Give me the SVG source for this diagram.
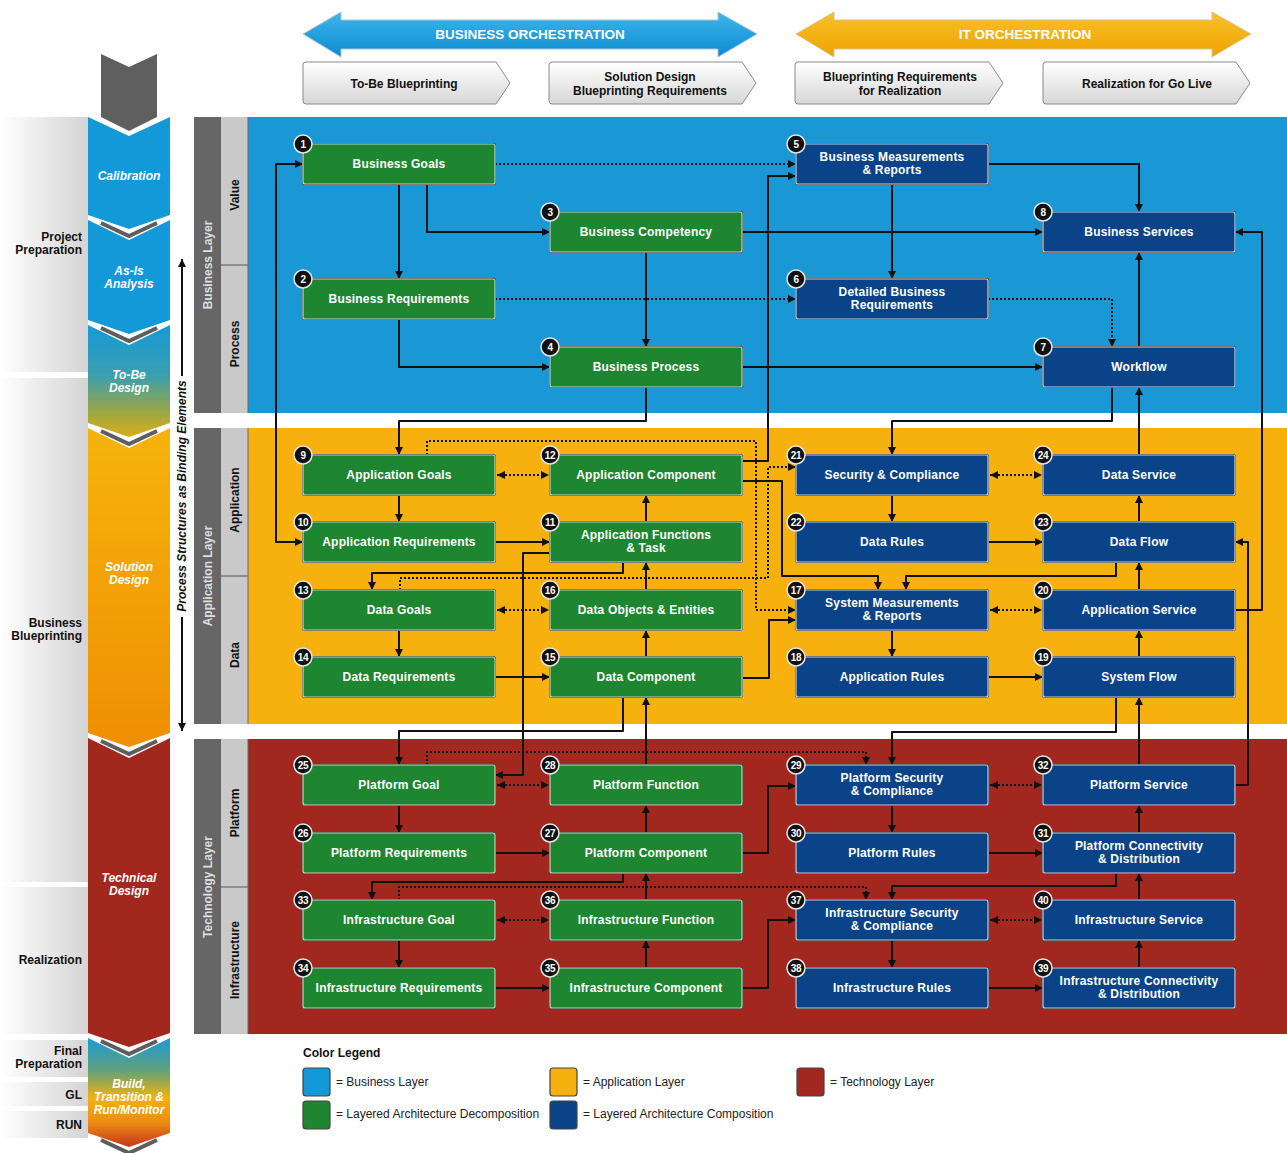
<svg xmlns="http://www.w3.org/2000/svg" width="1287" height="1153" viewBox="0 0 1287 1153">
<style>
.sh{fill:#2b2b2b}
.g .box{fill:#1e8530;stroke:#c8d4c8;stroke-width:1.2}
.b .box{fill:#0b4388;stroke:#c8d0dc;stroke-width:1.2}
.bc{fill:#111;stroke:#e6e6e6;stroke-width:1.5}
.bn{font-family:"Liberation Sans",Arial,sans-serif;font-weight:bold;font-size:10px;fill:#fff;text-anchor:middle;letter-spacing:-0.4px}
.t{font-family:"Liberation Sans",Arial,sans-serif;font-weight:bold;font-size:12px;fill:#fff;text-anchor:middle;letter-spacing:0.2px}
.c{fill:none;stroke:#111;stroke-width:2;stroke-linejoin:round;marker-end:url(#ah)}
.d{stroke-dasharray:2 2}
.two{marker-start:url(#ah)}
.lab{font-family:"Liberation Sans",Arial,sans-serif;font-weight:bold;font-size:12px;fill:#111}
.rt{text-anchor:end}
.mid{text-anchor:middle}
.ph{font-family:"Liberation Sans",Arial,sans-serif;font-weight:bold;font-style:italic;font-size:12px;fill:#fff;text-anchor:middle}
.sub{fill:url(#gsub);stroke:#8a8a8a;stroke-width:1}
.leg{font-family:"Liberation Sans",Arial,sans-serif;font-size:12px;fill:#222}
.sw{stroke:#444;stroke-width:1.2}
.stripe{fill:none;stroke:#5e5e5e;stroke-width:4}
.gp{fill:url(#ggray)}
</style>
<defs>
<marker id="ah" viewBox="0 0 10 10" refX="10" refY="5" markerWidth="9" markerHeight="8" markerUnits="userSpaceOnUse" orient="auto-start-reverse"><path d="M0,0 L10,5 L0,10 z" fill="#111"/></marker>
<linearGradient id="gsub" x1="0" y1="0" x2="0" y2="1"><stop offset="0" stop-color="#ffffff"/><stop offset="1" stop-color="#d6d6d6"/></linearGradient>
<linearGradient id="ggray" x1="0" y1="0" x2="1" y2="0"><stop offset="0" stop-color="#ffffff"/><stop offset="1" stop-color="#d4d4d4"/></linearGradient>
<linearGradient id="gbo" x1="0" y1="0" x2="0" y2="1"><stop offset="0" stop-color="#3fb6ec"/><stop offset="1" stop-color="#0a8bcf"/></linearGradient>
<linearGradient id="gito" x1="0" y1="0" x2="0" y2="1"><stop offset="0" stop-color="#f8c12a"/><stop offset="1" stop-color="#eea200"/></linearGradient>
<linearGradient id="gtobe" x1="0" y1="0" x2="0" y2="1"><stop offset="0" stop-color="#169ad8"/><stop offset="0.45" stop-color="#3a9fae"/><stop offset="0.75" stop-color="#94a74c"/><stop offset="1" stop-color="#d8ad18"/></linearGradient>
<linearGradient id="gsol" x1="0" y1="0" x2="0" y2="1"><stop offset="0" stop-color="#f6b30c"/><stop offset="1" stop-color="#ef8f02"/></linearGradient>
<linearGradient id="gbuild" x1="0" y1="0" x2="0" y2="1"><stop offset="0" stop-color="#1a9ad8"/><stop offset="0.3" stop-color="#62a27a"/><stop offset="0.55" stop-color="#f3b20e"/><stop offset="0.78" stop-color="#ec8a12"/><stop offset="1" stop-color="#c4361c"/></linearGradient>
</defs>
<rect width="1287" height="1153" fill="#ffffff"/>

<g id="header">
<polygon points="303,34 341,12 341,20 718,20 718,12 757,34 718,57 718,49 341,49 341,57" fill="url(#gbo)" stroke="#a9c3d6" stroke-width="1"/>
<text x="530" y="39" class="mid" font-family="Liberation Sans, Arial, sans-serif" font-weight="bold" font-size="13.5" fill="#fff">BUSINESS ORCHESTRATION</text>
<polygon points="796,34 834,12 834,20 1212,20 1212,12 1251,34 1212,57 1212,49 834,49 834,57" fill="url(#gito)" stroke="#d6c49a" stroke-width="1"/>
<text x="1025" y="39" class="mid" font-family="Liberation Sans, Arial, sans-serif" font-weight="bold" font-size="13.5" fill="#fff">IT ORCHESTRATION</text>
<path class="sub" d="M306,62 H496 L510,83 L496,104 H306 Q303,104 303,101 V65 Q303,62 306,62 Z"/>
<text class="lab mid" x="404" y="88">To-Be Blueprinting</text>
<path class="sub" d="M552,62 H742 L756,83 L742,104 H552 Q549,104 549,101 V65 Q549,62 552,62 Z"/>
<text class="lab mid" x="650" y="81">Solution Design</text>
<text class="lab mid" x="650" y="95">Blueprinting Requirements</text>
<path class="sub" d="M798,62 H989 L1003,83 L989,104 H798 Q795,104 795,101 V65 Q795,62 798,62 Z"/>
<text class="lab mid" x="900" y="81">Blueprinting Requirements</text>
<text class="lab mid" x="900" y="95">for Realization</text>
<path class="sub" d="M1046,62 H1236 L1250,83 L1236,104 H1046 Q1043,104 1043,101 V65 Q1043,62 1046,62 Z"/>
<text class="lab mid" x="1147" y="88">Realization for Go Live</text>
</g>

<g id="phases">
<rect class="gp" x="0" y="117" width="88" height="255"/>
<rect class="gp" x="0" y="378" width="88" height="504"/>
<rect class="gp" x="0" y="887" width="88" height="147"/>
<rect class="gp" x="0" y="1040" width="88" height="37"/>
<rect class="gp" x="0" y="1082" width="88" height="24"/>
<rect class="gp" x="0" y="1111" width="88" height="27"/>
<text class="lab rt" x="82" y="241">Project</text>
<text class="lab rt" x="82" y="254">Preparation</text>
<text class="lab rt" x="82" y="627">Business</text>
<text class="lab rt" x="82" y="640">Blueprinting</text>
<text class="lab rt" x="82" y="964">Realization</text>
<text class="lab rt" x="82" y="1055">Final</text>
<text class="lab rt" x="82" y="1068">Preparation</text>
<text class="lab rt" x="82" y="1099">GL</text>
<text class="lab rt" x="82" y="1129">RUN</text>

<polygon points="101,54 129,67 157,54 157,117 129,131 101,117" fill="#5f5f5f"/>
<polygon points="88,117 129,136 170,117 170,215 129,229 88,215" fill="#1499d8"/>
<polygon points="88,220 129,240 170,220 170,320 129,334 88,320" fill="#1499d8"/>
<polyline class="stripe" points="101,223 129,236 157,223"/>
<polygon points="88,325 129,345 170,325 170,423 129,437 88,423" fill="url(#gtobe)"/>
<polyline class="stripe" points="101,328 129,341 157,328"/>
<polygon points="88,428 129,448 170,428 170,733 129,747 88,733" fill="url(#gsol)"/>
<polyline class="stripe" points="101,431 129,444 157,431"/>
<polygon points="88,738 129,758 170,738 170,1033 129,1047 88,1033" fill="#a2271d"/>
<polyline class="stripe" points="101,741 129,754 157,741"/>
<polygon points="88,1038 129,1058 170,1038 170,1133 129,1147 88,1133" fill="url(#gbuild)"/>
<polyline class="stripe" points="101,1041 129,1054 157,1041"/>
<polyline class="stripe" points="101,1140 129,1153 157,1140"/>
<text class="ph" x="129" y="180">Calibration</text>
<text class="ph" x="129" y="275">As-Is</text>
<text class="ph" x="129" y="288">Analysis</text>
<text class="ph" x="129" y="379">To-Be</text>
<text class="ph" x="129" y="392">Design</text>
<text class="ph" x="129" y="571">Solution</text>
<text class="ph" x="129" y="584">Design</text>
<text class="ph" x="129" y="882">Technical</text>
<text class="ph" x="129" y="895">Design</text>
<text class="ph" x="129" y="1088">Build,</text>
<text class="ph" x="129" y="1101">Transition &amp;</text>
<text class="ph" x="129" y="1114">Run/Monitor</text>

<path d="M182,376 V259" fill="none" stroke="#111" stroke-width="2" marker-end="url(#ah)"/>
<path d="M182,617 V731" fill="none" stroke="#111" stroke-width="2" marker-end="url(#ah)"/>
<text transform="translate(186,496) rotate(-90)" font-family="Liberation Sans, Arial, sans-serif" font-weight="bold" font-style="italic" font-size="12" fill="#111" text-anchor="middle">Process Structures as Binding Elements</text>
</g>

<g id="layers">
<rect x="248" y="117" width="1039" height="296" fill="#1a98d6"/>
<rect x="248" y="428" width="1039" height="296" fill="#f7b10e"/>
<rect x="248" y="739" width="1039" height="295" fill="#a1271f"/>
<rect x="194" y="117" width="27" height="296" fill="#666"/>
<rect x="221" y="117" width="27" height="296" fill="#c9c9c9"/>
<rect x="194" y="428" width="27" height="296" fill="#666"/>
<rect x="221" y="428" width="27" height="296" fill="#c9c9c9"/>
<rect x="194" y="739" width="27" height="295" fill="#666"/>
<rect x="221" y="739" width="27" height="295" fill="#c9c9c9"/>
<line x1="221" y1="265" x2="248" y2="265" stroke="#555" stroke-width="1"/>
<line x1="221" y1="576" x2="248" y2="576" stroke="#555" stroke-width="1"/>
<line x1="221" y1="887" x2="248" y2="887" stroke="#555" stroke-width="1"/>
<line x1="248" y1="117" x2="248" y2="413" stroke="#666" stroke-width="1"/>
<line x1="248" y1="428" x2="248" y2="724" stroke="#666" stroke-width="1"/>
<line x1="248" y1="739" x2="248" y2="1034" stroke="#666" stroke-width="1"/>
<g font-family="Liberation Sans, Arial, sans-serif" font-weight="bold" font-size="12" text-anchor="middle">
<text transform="translate(212,265) rotate(-90)" fill="#dedede">Business Layer</text>
<text transform="translate(239,195) rotate(-90)" fill="#111">Value</text>
<text transform="translate(239,344) rotate(-90)" fill="#111">Process</text>
<text transform="translate(212,576) rotate(-90)" fill="#dedede">Application Layer</text>
<text transform="translate(239,500) rotate(-90)" fill="#111">Application</text>
<text transform="translate(239,655) rotate(-90)" fill="#111">Data</text>
<text transform="translate(212,887) rotate(-90)" fill="#dedede">Technology Layer</text>
<text transform="translate(239,813) rotate(-90)" fill="#111">Platform</text>
<text transform="translate(239,960) rotate(-90)" fill="#111">Infrastructure</text>
</g>
</g>

<g id="connectors">
<path class="c" d="M399,184 V279"/>
<path class="c" d="M427,184 V232 H550"/>
<path class="c" d="M646,252 V347"/>
<path class="c" d="M399,319 V367 H550"/>
<path class="c d" d="M495,164 H796"/>
<path class="c d" d="M495,299 H796"/>
<path class="c" d="M892,184 V279"/>
<path class="c" d="M988,164 H1139 V212"/>
<path class="c" d="M742,232 H1043"/>
<path class="c d" d="M988,299 H1112 V347"/>
<path class="c" d="M742,367 H1043"/>
<path class="c" d="M1139,347 V252"/>
<path class="c" d="M1235,610 H1262 V232 H1235"/>
<path class="c two" d="M303,164 H276 V542 H303"/>
<path class="c" d="M742,461 H768 V176 H796"/>
<path class="c" d="M646,387 V421 H399 V455"/>
<path class="c" d="M1112,387 V421 H892 V455"/>
<path class="c" d="M1139,455 V387"/>

<path class="c" d="M399,495 V522"/>
<path class="c d two" d="M497,475 H549"/>
<path class="c" d="M495,542 H550"/>
<path class="c" d="M646,522 V495"/>
<path class="c" d="M646,590 V562"/>
<path class="c" d="M646,657 V630"/>
<path class="c" d="M495,677 H550"/>
<path class="c" d="M399,630 V657"/>
<path class="c d two" d="M497,610 H549"/>
<path class="c" d="M623,562 V573 H372 V590"/>
<path class="c d" d="M427,455 V441 H756 V610 H796"/>
<path class="c d" d="M400,590 V578 H768 V467 H796"/>
<path class="c" d="M742,481 H782 V576 H878 V590"/>
<path class="c" d="M1116,562 V576 H906 V590"/>
<path class="c" d="M742,678 H769 V620 H796"/>
<path class="c" d="M892,495 V522"/>
<path class="c" d="M988,542 H1043"/>
<path class="c" d="M1139,522 V495"/>
<path class="c d two" d="M990,475 H1042"/>
<path class="c" d="M892,630 V657"/>
<path class="c" d="M988,677 H1043"/>
<path class="c" d="M1139,657 V630"/>
<path class="c" d="M1139,590 V562"/>
<path class="c d two" d="M990,610 H1042"/>

<path class="c" d="M623,697 V731 H399 V765"/>
<path class="c" d="M550,553 H523 V775 H495"/>
<path class="c" d="M646,765 V697"/>
<path class="c" d="M1116,697 V732 H892 V765"/>
<path class="c" d="M1139,765 V697"/>
<path class="c" d="M1235,785 H1248 V542 H1235"/>

<path class="c d" d="M427,765 V752 H866 V765"/>
<path class="c d two" d="M497,785 H549"/>
<path class="c" d="M399,805 V833"/>
<path class="c" d="M495,853 H550"/>
<path class="c" d="M646,833 V805"/>
<path class="c" d="M742,853 H768 V786 H796"/>
<path class="c" d="M623,873 V882 H372 V900"/>
<path class="c d" d="M399,900 V887 H866 V900"/>
<path class="c" d="M646,900 V873"/>
<path class="c d two" d="M497,920 H549"/>
<path class="c" d="M399,940 V968"/>
<path class="c" d="M495,988 H550"/>
<path class="c" d="M646,968 V940"/>
<path class="c" d="M742,988 H768 V920 H796"/>
<path class="c" d="M892,805 V833"/>
<path class="c" d="M988,853 H1043"/>
<path class="c" d="M1139,833 V805"/>
<path class="c d two" d="M990,785 H1042"/>
<path class="c" d="M1116,873 V886 H892 V900"/>
<path class="c" d="M892,940 V968"/>
<path class="c" d="M988,988 H1043"/>
<path class="c" d="M1139,968 V940"/>
<path class="c" d="M1139,900 V873"/>
<path class="c d two" d="M990,920 H1042"/>
</g>

<g id="n1" class="g"><rect class="sh" x="302" y="143" width="194" height="42" rx="3"/><rect class="box" x="303" y="144" width="192" height="40" rx="2"/><circle class="bc" cx="303" cy="144" r="9"/><text class="bn" x="303" y="147.5">1</text><text class="t" x="399" y="168">Business Goals</text></g>
<g id="n2" class="g"><rect class="sh" x="302" y="278" width="194" height="42" rx="3"/><rect class="box" x="303" y="279" width="192" height="40" rx="2"/><circle class="bc" cx="303" cy="279" r="9"/><text class="bn" x="303" y="282.5">2</text><text class="t" x="399" y="303">Business Requirements</text></g>
<g id="n3" class="g"><rect class="sh" x="549" y="211" width="194" height="42" rx="3"/><rect class="box" x="550" y="212" width="192" height="40" rx="2"/><circle class="bc" cx="550" cy="212" r="9"/><text class="bn" x="550" y="215.5">3</text><text class="t" x="646" y="236">Business Competency</text></g>
<g id="n4" class="g"><rect class="sh" x="549" y="346" width="194" height="42" rx="3"/><rect class="box" x="550" y="347" width="192" height="40" rx="2"/><circle class="bc" cx="550" cy="347" r="9"/><text class="bn" x="550" y="350.5">4</text><text class="t" x="646" y="371">Business Process</text></g>
<g id="n5" class="b"><rect class="sh" x="795" y="143" width="194" height="42" rx="3"/><rect class="box" x="796" y="144" width="192" height="40" rx="2"/><circle class="bc" cx="796" cy="144" r="9"/><text class="bn" x="796" y="147.5">5</text><text class="t" x="892" y="161">Business Measurements</text><text class="t" x="892" y="174">&amp; Reports</text></g>
<g id="n6" class="b"><rect class="sh" x="795" y="278" width="194" height="42" rx="3"/><rect class="box" x="796" y="279" width="192" height="40" rx="2"/><circle class="bc" cx="796" cy="279" r="9"/><text class="bn" x="796" y="282.5">6</text><text class="t" x="892" y="296">Detailed Business</text><text class="t" x="892" y="309">Requirements</text></g>
<g id="n7" class="b"><rect class="sh" x="1042" y="346" width="194" height="42" rx="3"/><rect class="box" x="1043" y="347" width="192" height="40" rx="2"/><circle class="bc" cx="1043" cy="347" r="9"/><text class="bn" x="1043" y="350.5">7</text><text class="t" x="1139" y="371">Workflow</text></g>
<g id="n8" class="b"><rect class="sh" x="1042" y="211" width="194" height="42" rx="3"/><rect class="box" x="1043" y="212" width="192" height="40" rx="2"/><circle class="bc" cx="1043" cy="212" r="9"/><text class="bn" x="1043" y="215.5">8</text><text class="t" x="1139" y="236">Business Services</text></g>

<g id="n9" class="g"><rect class="sh" x="302" y="454" width="194" height="42" rx="3"/><rect class="box" x="303" y="455" width="192" height="40" rx="2"/><circle class="bc" cx="303" cy="455" r="9"/><text class="bn" x="303" y="458.5">9</text><text class="t" x="399" y="479">Application Goals</text></g>
<g id="n10" class="g"><rect class="sh" x="302" y="521" width="194" height="42" rx="3"/><rect class="box" x="303" y="522" width="192" height="40" rx="2"/><circle class="bc" cx="303" cy="522" r="9"/><text class="bn" x="303" y="525.5">10</text><text class="t" x="399" y="546">Application Requirements</text></g>
<g id="n11" class="g"><rect class="sh" x="549" y="521" width="194" height="42" rx="3"/><rect class="box" x="550" y="522" width="192" height="40" rx="2"/><circle class="bc" cx="550" cy="522" r="9"/><text class="bn" x="550" y="525.5">11</text><text class="t" x="646" y="539">Application Functions</text><text class="t" x="646" y="552">&amp; Task</text></g>
<g id="n12" class="g"><rect class="sh" x="549" y="454" width="194" height="42" rx="3"/><rect class="box" x="550" y="455" width="192" height="40" rx="2"/><circle class="bc" cx="550" cy="455" r="9"/><text class="bn" x="550" y="458.5">12</text><text class="t" x="646" y="479">Application Component</text></g>
<g id="n13" class="g"><rect class="sh" x="302" y="589" width="194" height="42" rx="3"/><rect class="box" x="303" y="590" width="192" height="40" rx="2"/><circle class="bc" cx="303" cy="590" r="9"/><text class="bn" x="303" y="593.5">13</text><text class="t" x="399" y="614">Data Goals</text></g>
<g id="n14" class="g"><rect class="sh" x="302" y="656" width="194" height="42" rx="3"/><rect class="box" x="303" y="657" width="192" height="40" rx="2"/><circle class="bc" cx="303" cy="657" r="9"/><text class="bn" x="303" y="660.5">14</text><text class="t" x="399" y="681">Data Requirements</text></g>
<g id="n15" class="g"><rect class="sh" x="549" y="656" width="194" height="42" rx="3"/><rect class="box" x="550" y="657" width="192" height="40" rx="2"/><circle class="bc" cx="550" cy="657" r="9"/><text class="bn" x="550" y="660.5">15</text><text class="t" x="646" y="681">Data Component</text></g>
<g id="n16" class="g"><rect class="sh" x="549" y="589" width="194" height="42" rx="3"/><rect class="box" x="550" y="590" width="192" height="40" rx="2"/><circle class="bc" cx="550" cy="590" r="9"/><text class="bn" x="550" y="593.5">16</text><text class="t" x="646" y="614">Data Objects &amp; Entities</text></g>
<g id="n17" class="b"><rect class="sh" x="795" y="589" width="194" height="42" rx="3"/><rect class="box" x="796" y="590" width="192" height="40" rx="2"/><circle class="bc" cx="796" cy="590" r="9"/><text class="bn" x="796" y="593.5">17</text><text class="t" x="892" y="607">System Measurements</text><text class="t" x="892" y="620">&amp; Reports</text></g>
<g id="n18" class="b"><rect class="sh" x="795" y="656" width="194" height="42" rx="3"/><rect class="box" x="796" y="657" width="192" height="40" rx="2"/><circle class="bc" cx="796" cy="657" r="9"/><text class="bn" x="796" y="660.5">18</text><text class="t" x="892" y="681">Application Rules</text></g>
<g id="n19" class="b"><rect class="sh" x="1042" y="656" width="194" height="42" rx="3"/><rect class="box" x="1043" y="657" width="192" height="40" rx="2"/><circle class="bc" cx="1043" cy="657" r="9"/><text class="bn" x="1043" y="660.5">19</text><text class="t" x="1139" y="681">System Flow</text></g>
<g id="n20" class="b"><rect class="sh" x="1042" y="589" width="194" height="42" rx="3"/><rect class="box" x="1043" y="590" width="192" height="40" rx="2"/><circle class="bc" cx="1043" cy="590" r="9"/><text class="bn" x="1043" y="593.5">20</text><text class="t" x="1139" y="614">Application Service</text></g>
<g id="n21" class="b"><rect class="sh" x="795" y="454" width="194" height="42" rx="3"/><rect class="box" x="796" y="455" width="192" height="40" rx="2"/><circle class="bc" cx="796" cy="455" r="9"/><text class="bn" x="796" y="458.5">21</text><text class="t" x="892" y="479">Security &amp; Compliance</text></g>
<g id="n22" class="b"><rect class="sh" x="795" y="521" width="194" height="42" rx="3"/><rect class="box" x="796" y="522" width="192" height="40" rx="2"/><circle class="bc" cx="796" cy="522" r="9"/><text class="bn" x="796" y="525.5">22</text><text class="t" x="892" y="546">Data Rules</text></g>
<g id="n23" class="b"><rect class="sh" x="1042" y="521" width="194" height="42" rx="3"/><rect class="box" x="1043" y="522" width="192" height="40" rx="2"/><circle class="bc" cx="1043" cy="522" r="9"/><text class="bn" x="1043" y="525.5">23</text><text class="t" x="1139" y="546">Data Flow</text></g>
<g id="n24" class="b"><rect class="sh" x="1042" y="454" width="194" height="42" rx="3"/><rect class="box" x="1043" y="455" width="192" height="40" rx="2"/><circle class="bc" cx="1043" cy="455" r="9"/><text class="bn" x="1043" y="458.5">24</text><text class="t" x="1139" y="479">Data Service</text></g>

<g id="n25" class="g"><rect class="sh" x="302" y="764" width="194" height="42" rx="3"/><rect class="box" x="303" y="765" width="192" height="40" rx="2"/><circle class="bc" cx="303" cy="765" r="9"/><text class="bn" x="303" y="768.5">25</text><text class="t" x="399" y="789">Platform Goal</text></g>
<g id="n26" class="g"><rect class="sh" x="302" y="832" width="194" height="42" rx="3"/><rect class="box" x="303" y="833" width="192" height="40" rx="2"/><circle class="bc" cx="303" cy="833" r="9"/><text class="bn" x="303" y="836.5">26</text><text class="t" x="399" y="857">Platform Requirements</text></g>
<g id="n27" class="g"><rect class="sh" x="549" y="832" width="194" height="42" rx="3"/><rect class="box" x="550" y="833" width="192" height="40" rx="2"/><circle class="bc" cx="550" cy="833" r="9"/><text class="bn" x="550" y="836.5">27</text><text class="t" x="646" y="857">Platform Component</text></g>
<g id="n28" class="g"><rect class="sh" x="549" y="764" width="194" height="42" rx="3"/><rect class="box" x="550" y="765" width="192" height="40" rx="2"/><circle class="bc" cx="550" cy="765" r="9"/><text class="bn" x="550" y="768.5">28</text><text class="t" x="646" y="789">Platform Function</text></g>
<g id="n29" class="b"><rect class="sh" x="795" y="764" width="194" height="42" rx="3"/><rect class="box" x="796" y="765" width="192" height="40" rx="2"/><circle class="bc" cx="796" cy="765" r="9"/><text class="bn" x="796" y="768.5">29</text><text class="t" x="892" y="782">Platform Security</text><text class="t" x="892" y="795">&amp; Compliance</text></g>
<g id="n30" class="b"><rect class="sh" x="795" y="832" width="194" height="42" rx="3"/><rect class="box" x="796" y="833" width="192" height="40" rx="2"/><circle class="bc" cx="796" cy="833" r="9"/><text class="bn" x="796" y="836.5">30</text><text class="t" x="892" y="857">Platform Rules</text></g>
<g id="n31" class="b"><rect class="sh" x="1042" y="832" width="194" height="42" rx="3"/><rect class="box" x="1043" y="833" width="192" height="40" rx="2"/><circle class="bc" cx="1043" cy="833" r="9"/><text class="bn" x="1043" y="836.5">31</text><text class="t" x="1139" y="850">Platform Connectivity</text><text class="t" x="1139" y="863">&amp; Distribution</text></g>
<g id="n32" class="b"><rect class="sh" x="1042" y="764" width="194" height="42" rx="3"/><rect class="box" x="1043" y="765" width="192" height="40" rx="2"/><circle class="bc" cx="1043" cy="765" r="9"/><text class="bn" x="1043" y="768.5">32</text><text class="t" x="1139" y="789">Platform Service</text></g>
<g id="n33" class="g"><rect class="sh" x="302" y="899" width="194" height="42" rx="3"/><rect class="box" x="303" y="900" width="192" height="40" rx="2"/><circle class="bc" cx="303" cy="900" r="9"/><text class="bn" x="303" y="903.5">33</text><text class="t" x="399" y="924">Infrastructure Goal</text></g>
<g id="n34" class="g"><rect class="sh" x="302" y="967" width="194" height="42" rx="3"/><rect class="box" x="303" y="968" width="192" height="40" rx="2"/><circle class="bc" cx="303" cy="968" r="9"/><text class="bn" x="303" y="971.5">34</text><text class="t" x="399" y="992">Infrastructure Requirements</text></g>
<g id="n35" class="g"><rect class="sh" x="549" y="967" width="194" height="42" rx="3"/><rect class="box" x="550" y="968" width="192" height="40" rx="2"/><circle class="bc" cx="550" cy="968" r="9"/><text class="bn" x="550" y="971.5">35</text><text class="t" x="646" y="992">Infrastructure Component</text></g>
<g id="n36" class="g"><rect class="sh" x="549" y="899" width="194" height="42" rx="3"/><rect class="box" x="550" y="900" width="192" height="40" rx="2"/><circle class="bc" cx="550" cy="900" r="9"/><text class="bn" x="550" y="903.5">36</text><text class="t" x="646" y="924">Infrastructure Function</text></g>
<g id="n37" class="b"><rect class="sh" x="795" y="899" width="194" height="42" rx="3"/><rect class="box" x="796" y="900" width="192" height="40" rx="2"/><circle class="bc" cx="796" cy="900" r="9"/><text class="bn" x="796" y="903.5">37</text><text class="t" x="892" y="917">Infrastructure Security</text><text class="t" x="892" y="930">&amp; Compliance</text></g>
<g id="n38" class="b"><rect class="sh" x="795" y="967" width="194" height="42" rx="3"/><rect class="box" x="796" y="968" width="192" height="40" rx="2"/><circle class="bc" cx="796" cy="968" r="9"/><text class="bn" x="796" y="971.5">38</text><text class="t" x="892" y="992">Infrastructure Rules</text></g>
<g id="n39" class="b"><rect class="sh" x="1042" y="967" width="194" height="42" rx="3"/><rect class="box" x="1043" y="968" width="192" height="40" rx="2"/><circle class="bc" cx="1043" cy="968" r="9"/><text class="bn" x="1043" y="971.5">39</text><text class="t" x="1139" y="985">Infrastructure Connectivity</text><text class="t" x="1139" y="998">&amp; Distribution</text></g>
<g id="n40" class="b"><rect class="sh" x="1042" y="899" width="194" height="42" rx="3"/><rect class="box" x="1043" y="900" width="192" height="40" rx="2"/><circle class="bc" cx="1043" cy="900" r="9"/><text class="bn" x="1043" y="903.5">40</text><text class="t" x="1139" y="924">Infrastructure Service</text></g>

<g id="legend">
<text class="lab" x="303" y="1057">Color Legend</text>
<rect class="sw" x="303" y="1068" width="27" height="28" rx="3" fill="#1499d8"/>
<text class="leg" x="336" y="1086">= Business Layer</text>
<rect class="sw" x="550" y="1068" width="27" height="28" rx="3" fill="#f7b10e"/>
<text class="leg" x="583" y="1086">= Application Layer</text>
<rect class="sw" x="797" y="1068" width="27" height="28" rx="3" fill="#a1271f"/>
<text class="leg" x="830" y="1086">= Technology Layer</text>
<rect class="sw" x="303" y="1101" width="27" height="28" rx="3" fill="#1e8530"/>
<text class="leg" x="336" y="1118">= Layered Architecture Decomposition</text>
<rect class="sw" x="550" y="1101" width="27" height="28" rx="3" fill="#0b4388"/>
<text class="leg" x="583" y="1118">= Layered Architecture Composition</text>
</g>
</svg>
